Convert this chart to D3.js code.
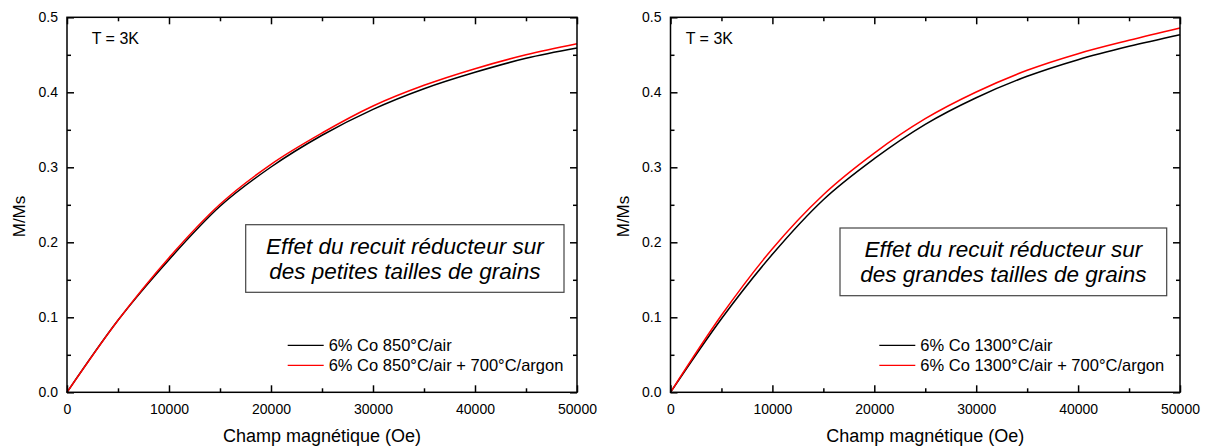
<!DOCTYPE html>
<html>
<head>
<meta charset="utf-8">
<script src="https://cdn.jsdelivr.net/npm/d3@7/dist/d3.min.js"></script>
<style>
  body { margin: 0; background: #fff; }
  svg { font-family: Arial, "Liberation Sans", sans-serif; }
</style>
</head>
<body>
<div id="chart"></div>
<script>
// field values (Oe)
var fieldValues = [0, 5000, 10000, 15000, 20000, 25000, 30000, 35000, 40000, 45000, 50000];

// left panel: small grains
var smallAir   = [0, 0.096, 0.1768, 0.248, 0.3004, 0.3427, 0.3773, 0.4048, 0.4267, 0.4453, 0.459];
var smallArgon = [0, 0.096, 0.1795, 0.2507, 0.304, 0.3457, 0.3817, 0.4093, 0.4315, 0.450, 0.4648];

// right panel: large grains
var largeAir   = [0, 0.0981, 0.184, 0.2568, 0.3115, 0.3573, 0.3928, 0.4213, 0.4435, 0.4613, 0.4768];
var largeArgon = [0, 0.1027, 0.1915, 0.2635, 0.319, 0.3648, 0.4004, 0.4293, 0.4515, 0.4693, 0.4857];

var xTicks = [0, 10000, 20000, 30000, 40000, 50000];
var yTicks = [0, 0.1, 0.2, 0.3, 0.4, 0.5];

var panels = [
    {
        left: 67, top: 17.3, width: 510, height: 375,
        series: [smallAir, smallArgon],
        legend: ["6% Co 850°C/air", "6% Co 850°C/air + 700°C/argon"],
        legendX: 287.7, tempX: 91.7,
        box: { x: 245.7, y: 224.7, w: 318.3, h: 67.6 },
        boxText: ["Effet du recuit réducteur sur", "des petites tailles de grains"]
    },
    {
        left: 670.5, top: 17.3, width: 509.5, height: 375,
        series: [largeAir, largeArgon],
        legend: ["6% Co 1300°C/air", "6% Co 1300°C/air + 700°C/argon"],
        legendX: 879.3, tempX: 685.7,
        box: { x: 840, y: 228, w: 326.7, h: 67.7 },
        boxText: ["Effet du recuit réducteur sur", "des grandes tailles de grains"]
    }
];

var colors = ["#000000", "#ff0000"];

var svg = d3.select("#chart").append("svg")
    .attr("width", 1211)
    .attr("height", 448);

panels.forEach(function(p) {
    var x = d3.scaleLinear().domain([0, 50000]).range([p.left, p.left + p.width]);
    var y = d3.scaleLinear().domain([0, 0.5]).range([p.top + p.height, p.top]);

    var g = svg.append("g");

    // curves
    var line = d3.line()
        .curve(d3.curveMonotoneX)
        .x(function(d, i) { return x(fieldValues[i]); })
        .y(function(d) { return y(d); });

    p.series.forEach(function(s, k) {
        g.append("path")
            .attr("d", line(s))
            .attr("fill", "none")
            .attr("stroke", colors[k])
            .attr("stroke-width", 1.5);
    });

    // axes (ticks pointing inward, mirrored on all sides)
    var xMinor = d3.range(5000, 50000, 10000);
    var yMinor = d3.range(0.05, 0.5, 0.1);

    function styleAxis(sel) {
        sel.select(".domain").remove();
        sel.selectAll(".tick line").attr("stroke", "#000").attr("stroke-width", 1.5);
        sel.selectAll(".tick text").attr("font-size", 14).attr("fill", "#000")
            .attr("font-family", "Arial, 'Liberation Sans', sans-serif");
    }

    g.append("g").attr("transform", "translate(0," + y(0) + ")")
        .call(d3.axisBottom(x).tickValues(xTicks).tickSize(-7).tickPadding(12).tickFormat(d3.format("d")))
        .call(styleAxis);
    g.append("g").attr("transform", "translate(0," + y(0) + ")")
        .call(d3.axisBottom(x).tickValues(xMinor).tickSize(-4).tickFormat(""))
        .call(styleAxis);
    g.append("g").attr("transform", "translate(0," + y(0.5) + ")")
        .call(d3.axisTop(x).tickValues(xTicks).tickSize(-7).tickFormat(""))
        .call(styleAxis);
    g.append("g").attr("transform", "translate(0," + y(0.5) + ")")
        .call(d3.axisTop(x).tickValues(xMinor).tickSize(-4).tickFormat(""))
        .call(styleAxis);

    g.append("g").attr("transform", "translate(" + x(0) + ",0)")
        .call(d3.axisLeft(y).tickValues(yTicks).tickSize(-7).tickPadding(9).tickFormat(d3.format(".1f")))
        .call(styleAxis);
    g.append("g").attr("transform", "translate(" + x(0) + ",0)")
        .call(d3.axisLeft(y).tickValues(yMinor).tickSize(-4).tickFormat(""))
        .call(styleAxis);
    g.append("g").attr("transform", "translate(" + x(50000) + ",0)")
        .call(d3.axisRight(y).tickValues(yTicks).tickSize(-7).tickFormat(""))
        .call(styleAxis);
    g.append("g").attr("transform", "translate(" + x(50000) + ",0)")
        .call(d3.axisRight(y).tickValues(yMinor).tickSize(-4).tickFormat(""))
        .call(styleAxis);

    // frame
    g.append("rect")
        .attr("x", x(0)).attr("y", y(0.5))
        .attr("width", x(50000) - x(0)).attr("height", y(0) - y(0.5))
        .attr("fill", "none").attr("stroke", "#000").attr("stroke-width", 1.5);

    // axis titles
    g.append("text")
        .attr("x", (x(0) + x(50000)) / 2).attr("y", 442)
        .attr("text-anchor", "middle").attr("font-size", 18)
        .text("Champ magnétique (Oe)");
    g.append("text")
        .attr("transform", "translate(" + (x(0) - 42) + "," + 216.5 + ") rotate(-90)")
        .attr("text-anchor", "middle").attr("font-size", 17)
        .text("M/Ms");

    // temperature label
    g.append("text")
        .attr("x", p.tempX).attr("y", 43.5)
        .attr("font-size", 16)
        .text("T = 3K");

    // legend
    p.legend.forEach(function(label, k) {
        var ly = 345.3 + k * 20;
        g.append("line")
            .attr("x1", p.legendX).attr("x2", p.legendX + 36)
            .attr("y1", ly).attr("y2", ly)
            .attr("stroke", colors[k]).attr("stroke-width", 1.2);
        g.append("text")
            .attr("x", p.legendX + 41).attr("y", ly + 5.5)
            .attr("font-size", 16.5)
            .text(label);
    });

    // annotation box
    g.append("rect")
        .attr("x", p.box.x).attr("y", p.box.y)
        .attr("width", p.box.w).attr("height", p.box.h)
        .attr("fill", "#fff").attr("stroke", "#444").attr("stroke-width", 1.2);
    p.boxText.forEach(function(t, k) {
        g.append("text")
            .attr("x", p.box.x + p.box.w / 2).attr("y", p.box.y + 29 + k * 25)
            .attr("text-anchor", "middle")
            .attr("font-size", 22.5).attr("font-style", "italic")
            .text(t);
    });
});
</script>
</body>
</html>
